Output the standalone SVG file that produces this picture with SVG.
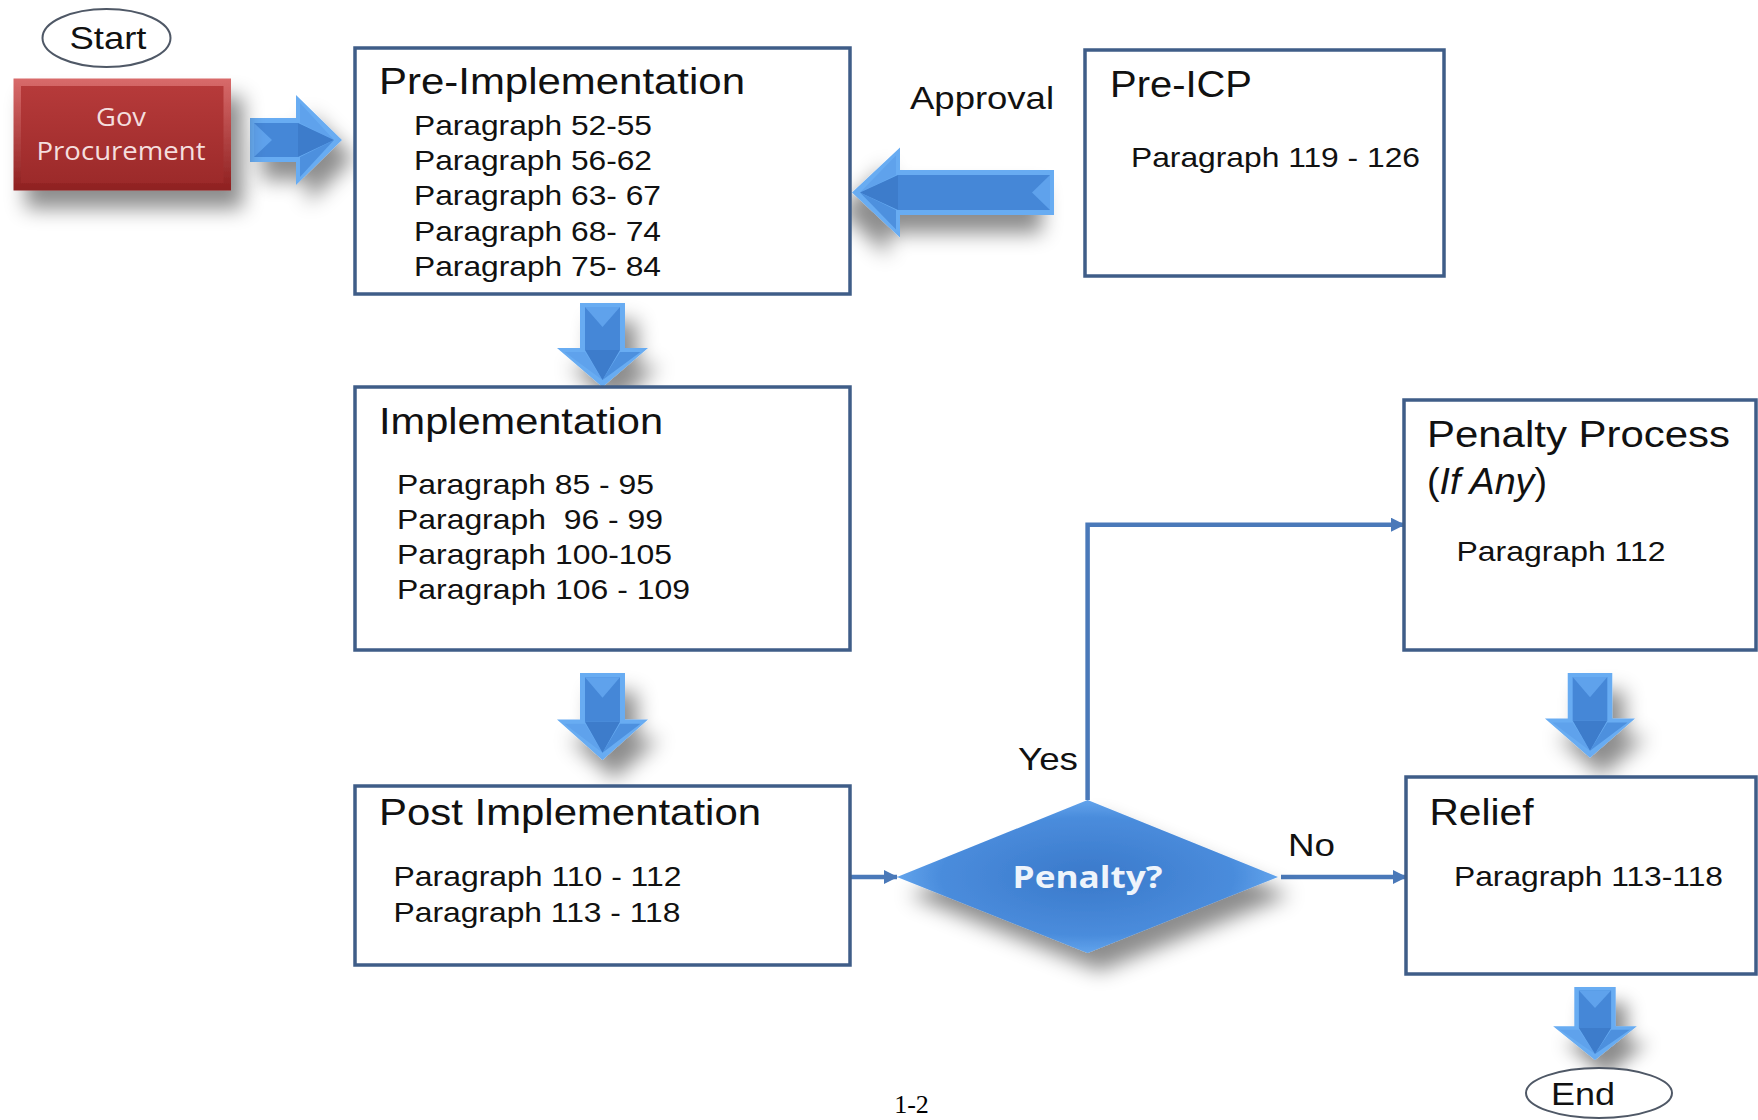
<svg xmlns="http://www.w3.org/2000/svg" width="1758" height="1120" viewBox="0 0 1758 1120">
<defs>
<style>
.box{fill:#fff;stroke:#3f5d88;stroke-width:3.5}
.t{font-family:"Liberation Sans",Arial,sans-serif;fill:#111}
.ti{font-size:36px}
.p{font-size:28px}
.lb{font-size:32px}
.conn{fill:none;stroke:#4a79b9;stroke-width:4.5}
.ol{fill:#fff;stroke:#4f5866;stroke-width:2}
.edge{fill:#68acf2}
.face{fill:#4587d7}
.lite{fill:#5fa2ec}
.mid{fill:#4d90de}
.dark{fill:#3c7bcb}
</style>
<linearGradient id="redFace" x1="0" y1="0" x2="0" y2="1">
<stop offset="0" stop-color="#b63a3a"/><stop offset="1" stop-color="#9c2a2a"/>
</linearGradient>
<linearGradient id="redEdge" x1="0" y1="0" x2="0" y2="1">
<stop offset="0" stop-color="#d86a6a"/><stop offset="1" stop-color="#8e2020"/>
</linearGradient>
<radialGradient id="diaFace" cx="0.5" cy="0.5" r="0.55">
<stop offset="0" stop-color="#3a79ca"/><stop offset="0.7" stop-color="#4a8cdc"/><stop offset="1" stop-color="#6caef3"/>
</radialGradient>
<filter id="shadow" x="-50%" y="-50%" width="220%" height="240%">
<feGaussianBlur in="SourceAlpha" stdDeviation="10"/>
<feOffset dx="12" dy="18" result="b"/>
<feFlood flood-color="#000" flood-opacity="0.45"/>
<feComposite in2="b" operator="in" result="s"/>
<feMerge><feMergeNode in="s"/><feMergeNode in="SourceGraphic"/></feMerge>
</filter>
<marker id="ah" viewBox="0 0 14 14" refX="13" refY="7" markerWidth="14" markerHeight="14" markerUnits="userSpaceOnUse" orient="auto">
<path d="M0,0 L14,7 L0,14 z" fill="#4a79b9"/>
</marker>
<g id="downArrow">
<path class="edge" d="M-22.5,0 H22.5 V45 H45.5 L0,84 L-45.5,45 H-22.5 Z"/>
<path class="face" d="M-17.5,4 H17.5 V47 H-17.5 Z"/>
<path class="lite" d="M-17.5,4 L0,24 L17.5,4 Z"/>
<path class="lite" d="M-38,49 L-17.5,49 L0,77 Z"/>
<path class="mid" d="M17.5,49 L38,49 L0,77 Z"/>
<path class="dark" d="M-17.5,47 H17.5 L0,77 Z"/>
</g>
<g id="rightArrow">
<path class="edge" d="M0,-22 H46 V-45 L92,0 L46,45 V22 H0 Z"/>
<path class="face" d="M4,-17 H48 V17 H4 Z"/>
<path class="lite" d="M4,-17 L22,0 L4,17 Z"/>
<path class="lite" d="M50,-37 V-17 L84,0 Z"/>
<path class="mid" d="M50,37 V17 L84,0 Z"/>
<path class="dark" d="M48,-17 V17 L84,0 Z"/>
</g>
<g id="leftArrow">
<path class="edge" d="M0,-22.5 H154 V-45 L202,0 L154,45 V22.5 H0 Z"/>
<path class="face" d="M4,-17.5 H156 V17.5 H4 Z"/>
<path class="lite" d="M4,-17.5 L22,0 L4,17.5 Z"/>
<path class="lite" d="M158,-37 V-17.5 L194,0 Z"/>
<path class="mid" d="M158,37 V17.5 L194,0 Z"/>
<path class="dark" d="M156,-17.5 V17.5 L194,0 Z"/>
</g>
</defs>
<rect width="1758" height="1120" fill="#fff"/>

<g id="connectors">
<path class="conn" d="M1087.6,800 V524.7 H1404" marker-end="url(#ah)"/>
<path class="conn" d="M1281,877 H1406" marker-end="url(#ah)"/>
<path class="conn" d="M850,877 H897" marker-end="url(#ah)"/>
<use id="arrow-gov" href="#rightArrow" transform="translate(250,140)" filter="url(#shadow)"/>
<use id="arrow-approval" href="#leftArrow" transform="translate(1054,192.5) scale(-1,1)" filter="url(#shadow)"/>
<use id="arrow-down1" href="#downArrow" transform="translate(602.5,303)" filter="url(#shadow)"/>
<use id="arrow-down2" href="#downArrow" transform="translate(602.5,673) scale(1,1.036)" filter="url(#shadow)"/>
<use id="arrow-down3" href="#downArrow" transform="translate(1590,673) scale(0.99,1.01)" filter="url(#shadow)"/>
<use id="arrow-down4" href="#downArrow" transform="translate(1595,987) scale(0.92,0.87)" filter="url(#shadow)"/>
</g>

<g id="start">
<ellipse class="ol" cx="106.5" cy="38" rx="64" ry="29"/>
<text class="t lb" x="108" y="49" text-anchor="middle" textLength="77" lengthAdjust="spacingAndGlyphs">Start</text>
</g>

<g id="gov">
<rect x="13.5" y="78.5" width="217.5" height="112" fill="url(#redEdge)" filter="url(#shadow)"/>
<rect x="21" y="86" width="202.5" height="97" fill="url(#redFace)"/>
<text x="121" y="126" text-anchor="middle" font-family="'Open Sans','Liberation Sans',sans-serif" font-size="26" fill="#f4dede" textLength="50" lengthAdjust="spacingAndGlyphs">Gov</text>
<text x="121" y="160" text-anchor="middle" font-family="'Open Sans','Liberation Sans',sans-serif" font-size="26" fill="#f4dede" textLength="169" lengthAdjust="spacingAndGlyphs">Procurement</text>
</g>

<g id="pre-implementation">
<rect class="box" x="355" y="48" width="495" height="246"/>
<text class="t ti" x="379" y="94" textLength="366" lengthAdjust="spacingAndGlyphs">Pre-Implementation</text>
<text class="t p" x="414" y="134.5" textLength="238" lengthAdjust="spacingAndGlyphs">Paragraph 52-55</text>
<text class="t p" x="414" y="170" textLength="238" lengthAdjust="spacingAndGlyphs">Paragraph 56-62</text>
<text class="t p" x="414" y="205" textLength="247" lengthAdjust="spacingAndGlyphs">Paragraph 63- 67</text>
<text class="t p" x="414" y="241" textLength="247" lengthAdjust="spacingAndGlyphs">Paragraph 68- 74</text>
<text class="t p" x="414" y="276" textLength="247" lengthAdjust="spacingAndGlyphs">Paragraph 75- 84</text>
</g>

<g id="approval-label">
<text class="t lb" x="910" y="109" textLength="144" lengthAdjust="spacingAndGlyphs">Approval</text>
</g>

<g id="pre-icp">
<rect class="box" x="1085" y="50" width="359" height="226"/>
<text class="t ti" x="1110" y="97" textLength="142" lengthAdjust="spacingAndGlyphs">Pre-ICP</text>
<text class="t p" x="1131" y="167" textLength="289" lengthAdjust="spacingAndGlyphs">Paragraph 119 - 126</text>
</g>

<g id="implementation">
<rect class="box" x="355" y="387" width="495" height="263"/>
<text class="t ti" x="379" y="434" textLength="284" lengthAdjust="spacingAndGlyphs">Implementation</text>
<text class="t p" x="397" y="494" textLength="257" lengthAdjust="spacingAndGlyphs">Paragraph 85 - 95</text>
<text class="t p" x="397" y="529" textLength="266" lengthAdjust="spacingAndGlyphs" xml:space="preserve" style="white-space:pre">Paragraph  96 - 99</text>
<text class="t p" x="397" y="564" textLength="275" lengthAdjust="spacingAndGlyphs">Paragraph 100-105</text>
<text class="t p" x="397" y="599" textLength="293" lengthAdjust="spacingAndGlyphs">Paragraph 106 - 109</text>
</g>

<g id="post-implementation">
<rect class="box" x="355" y="786" width="495" height="179"/>
<text class="t ti" x="379" y="825" textLength="382" lengthAdjust="spacingAndGlyphs">Post Implementation</text>
<text class="t p" x="393.5" y="885.5" textLength="288" lengthAdjust="spacingAndGlyphs">Paragraph 110 - 112</text>
<text class="t p" x="393.5" y="921.5" textLength="287" lengthAdjust="spacingAndGlyphs">Paragraph 113 - 118</text>
</g>

<g id="penalty-decision">
<polygon points="897,877 1087.6,800 1278,877 1087.6,953" fill="url(#diaFace)" filter="url(#shadow)"/>
<text x="1087.6" y="888" text-anchor="middle" font-family="'Open Sans','Liberation Sans',sans-serif" font-weight="bold" font-size="31" fill="#eef4fb" textLength="150" lengthAdjust="spacingAndGlyphs">Penalty?</text>
</g>

<g id="yes-label"><text class="t lb" x="1018" y="770" textLength="60" lengthAdjust="spacingAndGlyphs">Yes</text></g>
<g id="no-label"><text class="t lb" x="1288" y="856" textLength="47" lengthAdjust="spacingAndGlyphs">No</text></g>

<g id="penalty-process">
<rect class="box" x="1404" y="400" width="352" height="250"/>
<text class="t ti" x="1427" y="447" textLength="303" lengthAdjust="spacingAndGlyphs">Penalty Process</text>
<text class="t ti" x="1427" y="494" textLength="120" lengthAdjust="spacingAndGlyphs">(<tspan font-style="italic">If Any</tspan>)</text>
<text class="t p" x="1456.5" y="561" textLength="209" lengthAdjust="spacingAndGlyphs">Paragraph 112</text>
</g>

<g id="relief">
<rect class="box" x="1406" y="777" width="350" height="197"/>
<text class="t ti" x="1429.5" y="825" textLength="104" lengthAdjust="spacingAndGlyphs">Relief</text>
<text class="t p" x="1454" y="886" textLength="269" lengthAdjust="spacingAndGlyphs">Paragraph 113-118</text>
</g>

<g id="end">
<ellipse class="ol" cx="1599" cy="1093" rx="73" ry="25"/>
<text class="t lb" x="1583" y="1105" text-anchor="middle" textLength="64" lengthAdjust="spacingAndGlyphs">End</text>
</g>

<text x="911.5" y="1113" text-anchor="middle" font-family="'Liberation Serif','Times New Roman',serif" font-size="26" fill="#000">1-2</text>
</svg>
